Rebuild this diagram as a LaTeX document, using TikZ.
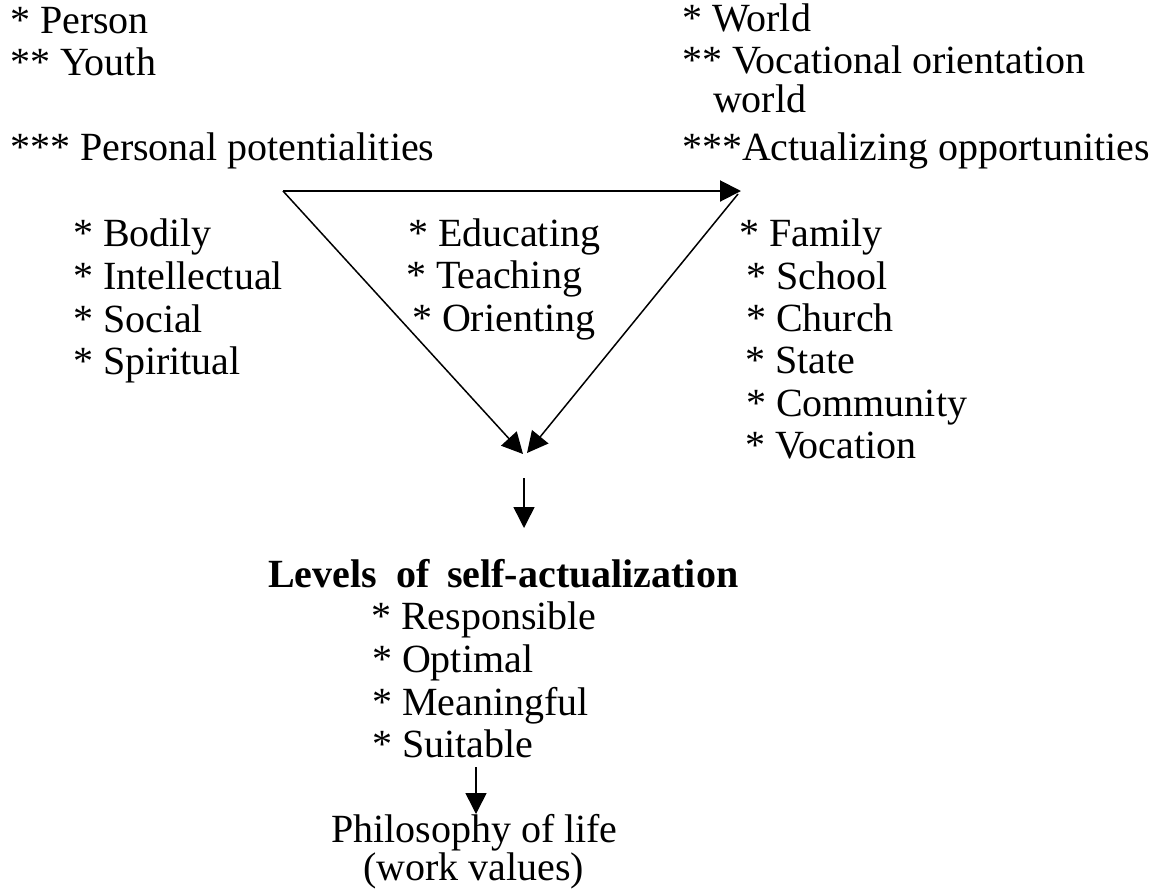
\documentclass[tikz,border=0pt]{standalone}
\usepackage{fontspec}
\setmainfont{Liberation Serif}
\usetikzlibrary{arrows.meta}
\begin{document}
\begin{tikzpicture}[x=1pt,y=-1pt,
  txt/.style={anchor=base west,inner sep=0pt,outer sep=0pt,
    font=\fontsize{40}{48}\selectfont},
  head/.style={txt,font=\fontsize{40}{48}\selectfont\bfseries},
  flow/.style={line width=1.5pt,-{Triangle[length=21pt,width=21pt]}},
  topflow/.style={flow,line width=2pt}]
\useasboundingbox (0,0) rectangle (1161,892);

% left heading
\node[txt] (person) at (10,33) {* Person};
\node[txt] (youth) at (10,75) {** Youth};
\node[txt] (potent) at (10,160) {*** Personal potentialities};

% right heading
\node[txt] (world) at (682,31) {* World};
\node[txt] (vocor) at (682,73) {** Vocational orientation};
\node[txt] (world2) at (713,112) {world};
\node[txt] (actual) at (682,160) {***Actualizing opportunities};

% triangle corners
\coordinate (tl) at (283,191);
\coordinate (tr) at (741,191);
\coordinate (trs) at (738,194);
\coordinate (bl) at (523,454);
\coordinate (br) at (527,453);

\draw[topflow] (tl) -- (tr);
\draw[flow] (tl) -- (bl);
\draw[flow] (trs) -- (br);

% potentialities
\node[txt] (bod) at (73,246) {* Bodily};
\node[txt] (int) at (73,289) {* Intellectual};
\node[txt] (soc) at (73,332) {* Social};
\node[txt] (spi) at (73,374) {* Spiritual};

% middle actions
\node[txt] (edu) at (408,246) {* Educating};
\node[txt] (tea) at (406,288) {* Teaching};
\node[txt] (ori) at (412,331) {* Orienting};

% opportunities
\node[txt] (fam) at (739,246) {* Family};
\node[txt] (sch) at (746,289) {* School};
\node[txt] (chu) at (746,331) {* Church};
\node[txt] (sta) at (745,373) {* State};
\node[txt] (com) at (746,416) {* Community};
\node[txt] (voc) at (745,458) {* Vocation};

% outcome
\coordinate (m1) at (524,478);
\node[head] (levels) at (268,587) {Levels\hspace{20pt}of\hspace{17pt}self-actualization};
\coordinate (m2) at (524,528);
\draw[flow] (m1) -- (m2);

\node[txt] (res) at (371,629) {* Responsible};
\node[txt] (opt) at (372,672) {* Optimal};
\node[txt] (mea) at (372,715) {* Meaningful};
\node[txt] (sui) at (372,757) {* Suitable};

\coordinate (s1) at (476,767);
\coordinate (s2) at (476,814);
\draw[flow] (s1) -- (s2);

\node[txt] (phil) at (331,842) {Philosophy of life};
\node[txt] (wv) at (363,880) {(work values)};
\end{tikzpicture}
\end{document}
